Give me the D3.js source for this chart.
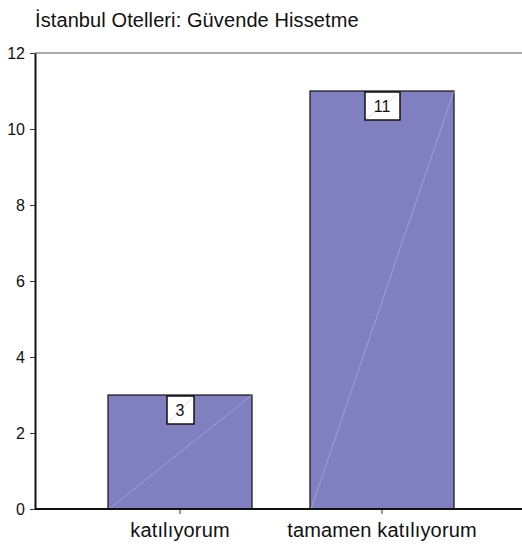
<!DOCTYPE html>
<html>
<head>
<meta charset="utf-8">
<script src="https://cdn.jsdelivr.net/npm/d3@7"></script>
<style>
  html, body { margin: 0; padding: 0; background: #fff; }
  svg { display: block; font-family: "Liberation Sans", Arial, sans-serif; }
</style>
</head>
<body>
<svg id="chart" width="522" height="546"></svg>
<script>
// Chart data
const title = "İstanbul Otelleri: Güvende Hissetme";
const categories = ["katılıyorum", "tamamen katılıyorum"];
const counts = [3, 11];
const yTicks = [0, 2, 4, 6, 8, 10, 12];

const svg = d3.select("#chart");
const W = 522;

const x = d3.scaleBand()
  .domain(categories)
  .range([79, 483])
  .paddingInner(0.287)
  .paddingOuter(0.1435);

const y = d3.scaleLinear()
  .domain([0, 12])
  .range([509, 53]);

// Title
svg.append("text")
  .attr("x", 35)
  .attr("y", 27)
  .attr("font-size", 20)
  .attr("letter-spacing", 0.1)
  .attr("fill", "#111")
  .text(title);

// Top frame line
svg.append("line")
  .attr("x1", 35).attr("x2", W)
  .attr("y1", y(12)).attr("y2", y(12))
  .attr("stroke", "#555").attr("stroke-width", 1.2);

// Bars
const bars = svg.append("g");
categories.forEach((c, i) => {
  const x0 = x(c), bw = x.bandwidth();
  bars.append("rect")
    .attr("x", x0).attr("y", y(counts[i]))
    .attr("width", bw).attr("height", y(0) - y(counts[i]))
    .attr("fill", "#8080c0")
    .attr("stroke", "#111").attr("stroke-width", 1.2);
  bars.append("line")
    .attr("x1", x0 + 1).attr("y1", y(0))
    .attr("x2", x0 + bw).attr("y2", y(counts[i]))
    .attr("stroke", "#b4b4e6").attr("stroke-width", 0.6);
});

// Y axis
const yAxis = svg.append("g")
  .attr("transform", "translate(35,0)")
  .call(d3.axisLeft(y).tickValues(yTicks).tickSize(5).tickSizeOuter(0).tickFormat(d3.format("d")));
yAxis.select(".domain").attr("stroke", "#111").attr("stroke-width", 2);
yAxis.selectAll(".tick line").attr("stroke", "#333");
yAxis.selectAll(".tick text")
  .attr("x", -10)
  .attr("font-size", 16)
  .attr("font-family", "Liberation Sans, Arial, sans-serif")
  .attr("fill", "#111");

// X axis
const xAxis = svg.append("g")
  .attr("transform", `translate(0,${y(0)})`)
  .call(d3.axisBottom(x).tickSize(5).tickSizeOuter(0));
xAxis.select(".domain").remove();
xAxis.selectAll(".tick line").attr("stroke", "#333");
xAxis.selectAll(".tick text")
  .attr("y", 28)
  .attr("dy", 0)
  .attr("font-size", 20)
  .attr("letter-spacing", 0.15)
  .attr("font-family", "Liberation Sans, Arial, sans-serif")
  .attr("fill", "#111");
svg.append("line")
  .attr("x1", 35).attr("x2", W)
  .attr("y1", y(0)).attr("y2", y(0))
  .attr("stroke", "#111").attr("stroke-width", 2);

// Value labels in boxes
categories.forEach((c, i) => {
  const cx = x(c) + x.bandwidth() / 2;
  const g = svg.append("g");
  const t = g.append("text")
    .attr("x", cx).attr("y", y(counts[i]) + 21)
    .attr("text-anchor", "middle")
    .attr("font-size", 16)
    .attr("fill", "#111")
    .text(counts[i]);
  const tw = t.node().getComputedTextLength();
  const bw = Math.round(tw + 18), bh = 28;
  const bx = cx - bw / 2 + 0.5, by = y(counts[i]) + 1;
  g.insert("rect", "text")
    .attr("x", bx).attr("y", by)
    .attr("width", bw).attr("height", bh)
    .attr("fill", "#fff")
    .attr("stroke", "#111").attr("stroke-width", 1.5);
  g.insert("line", "text")
    .attr("x1", bx + 1).attr("y1", by + bh - 1)
    .attr("x2", bx + bw - 1).attr("y2", by + 1)
    .attr("stroke", "#c8c8e8").attr("stroke-width", 0.6);
});
</script>
</body>
</html>
